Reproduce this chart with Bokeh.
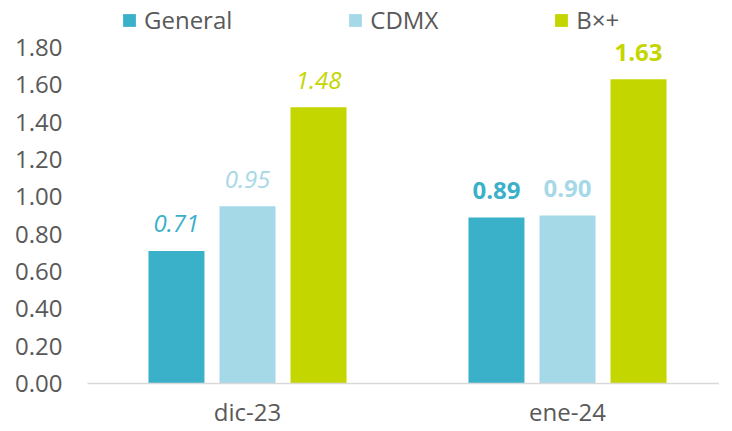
from bokeh.plotting import figure
from bokeh.models import ColumnDataSource, Range1d, FixedTicker, Legend, LegendItem, NumeralTickFormatter
from bokeh.core.properties import value, field
from bokeh.embed import file_html
from bokeh.resources import INLINE

categories = ["dic-23", "ene-24"]
series = ["General", "CDMX", "B×+"]
general = [0.71, 0.89]
cdmx = [0.95, 0.90]
bxmas = [1.48, 1.63]
label_styles = ["italic", "bold"]
y_ticks = [0.0, 0.2, 0.4, 0.6, 0.8, 1.0, 1.2, 1.4, 1.6, 1.8]

colors = ["#3BB0C9", "#A6D9E7", "#C4D600"]
offsets = [-0.222, 0.0, 0.222]
bar_w = 0.175
FONT = "Open Sans"

p = figure(frame_width=632, frame_height=383, output_backend="svg", toolbar_location=None,
           x_range=Range1d(-0.5, 1.475), y_range=Range1d(0, 2.052),
           min_border_left=87, min_border_right=0, min_border_top=0, min_border_bottom=40)
p.outline_line_color = None
p.xgrid.visible = False
p.ygrid.visible = False

renderers = []
for name, vals, col, off in zip(series, [general, cdmx, bxmas], colors, offsets):
    xs = [i + off for i in range(len(categories))]
    src = ColumnDataSource(dict(x=xs, top=vals,
                                label=["%.2f" % v for v in vals],
                                style=label_styles))
    r = p.vbar(x="x", top="top", width=bar_w, bottom=0, source=src,
               fill_color=col, line_color=None)
    renderers.append((name, r))
    p.text(x="x", y="top", text="label", source=src, text_color=col,
           text_font=value(FONT), text_font_size="24px", text_font_style=field("style"),
           text_align="center", text_baseline="middle", y_offset=-27)

p.yaxis.ticker = FixedTicker(ticks=y_ticks)
p.yaxis.formatter = NumeralTickFormatter(format="0.00")
p.yaxis.axis_line_color = None
p.yaxis.major_tick_line_color = None
p.yaxis.minor_tick_line_color = None
p.yaxis.major_tick_out = 0
p.yaxis.major_label_text_font = FONT
p.yaxis.major_label_text_font_size = "24px"
p.yaxis.major_label_text_color = "#595959"
p.yaxis.major_label_standoff = 25

p.xaxis.ticker = FixedTicker(ticks=list(range(len(categories))))
p.xaxis.major_label_overrides = {i: c for i, c in enumerate(categories)}
p.xaxis.axis_line_color = "#D9D9D9"
p.xaxis.axis_line_width = 1.5
p.xaxis.major_tick_line_color = None
p.xaxis.minor_tick_line_color = None
p.xaxis.major_tick_out = 0
p.xaxis.major_label_text_font = FONT
p.xaxis.major_label_text_font_size = "24px"
p.xaxis.major_label_text_color = "#595959"
p.xaxis.major_label_standoff = 11

legend = Legend(items=[LegendItem(label=n, renderers=[r]) for n, r in renderers],
                orientation="horizontal", location=(34, 347),
                glyph_width=16, glyph_height=16, label_standoff=7, spacing=115,
                padding=0, margin=0, border_line_color=None, background_fill_alpha=0,
                label_text_font=FONT, label_text_font_size="24px",
                label_text_color="#595959")
p.add_layout(legend, "center")

open("out.html", "w").write(file_html(p, INLINE))
